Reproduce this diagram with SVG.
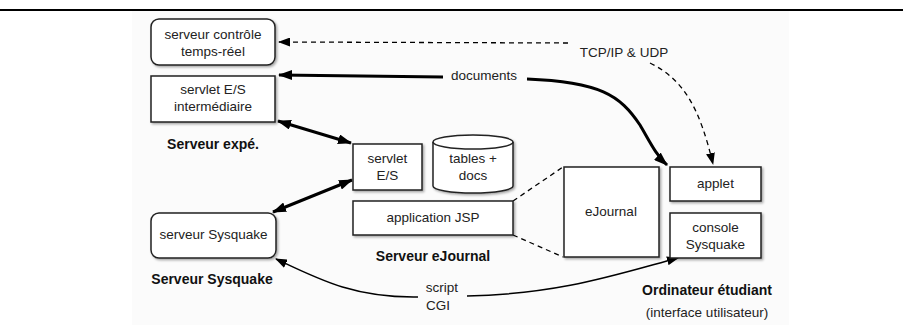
<svg xmlns="http://www.w3.org/2000/svg" width="903" height="325" viewBox="0 0 903 325">
<style>
.box{fill:#fff;stroke:#222;stroke-width:1.5;filter:url(#sh)}
.t{font-family:"Liberation Sans",Arial,sans-serif;font-size:13.5px;fill:#222;text-anchor:middle}
.b{font-family:"Liberation Sans",Arial,sans-serif;font-size:14px;font-weight:bold;fill:#111;text-anchor:middle}
.thick{fill:none;stroke:#000;stroke-width:3}
.thin{fill:none;stroke:#000;stroke-width:1.5}
.dash{fill:none;stroke:#000;stroke-width:1.3;stroke-dasharray:5 4}
</style>
<defs>
<filter id="sh" x="-10%" y="-10%" width="130%" height="130%">
<feDropShadow dx="1.5" dy="1.5" stdDeviation="1" flood-color="#000" flood-opacity="0.35"/>
</filter>
<marker id="ab" viewBox="0 0 14 10" refX="13" refY="5" markerWidth="14" markerHeight="10" markerUnits="userSpaceOnUse" orient="auto-start-reverse">
<path d="M0,0 L14,5 L0,10 Z" fill="#000"/>
</marker>
<marker id="as" viewBox="0 0 12 9" refX="11" refY="4.5" markerWidth="12" markerHeight="9" markerUnits="userSpaceOnUse" orient="auto-start-reverse">
<path d="M0,0 L12,4.5 L0,9 Z" fill="#000"/>
</marker>
</defs>
<rect x="0" y="0" width="903" height="325" fill="#fff"/>
<rect x="132" y="11" width="657" height="314" fill="#fbfbfb"/>
<line x1="0" y1="10" x2="903" y2="10" stroke="#000" stroke-width="2"/>

<g id="connectors">
<path class="dash" d="M568,43 L279,42" marker-end="url(#as)"/>
<path class="dash" d="M650,63 C685,80 700,110 713,164" marker-end="url(#as)"/>
<path class="thick" d="M443,77 C380,76 320,75 279,75" marker-end="url(#ab)"/>
<path class="thick" d="M527,79 C600,82 620,95 640,125 C650,142 656,155 667,165" marker-end="url(#ab)"/>
<path class="thick" d="M278,121 L351,143" marker-start="url(#ab)" marker-end="url(#ab)"/>
<path class="thick" d="M273,212 L352,180" marker-start="url(#ab)" marker-end="url(#ab)"/>
<path class="dash" d="M513,201 L563,167"/>
<path class="dash" d="M513,235 L563,257"/>
<path class="thin" d="M418,297 C355,298 320,280 276,259" marker-end="url(#as)"/>
<path class="thin" d="M467,296 C560,294 615,275 678,258" marker-end="url(#as)"/>
<text class="t" x="624" y="57">TCP/IP &amp; UDP</text>
<text class="t" x="484" y="80">documents</text>
<text class="t" x="442" y="292">script</text>
<text class="t" x="438" y="310">CGI</text>
</g>

<g id="serveur-controle">
<rect class="box" x="151" y="19" width="124" height="46" rx="8"/>
<text class="t" x="213" y="39">serveur contrôle</text>
<text class="t" x="213" y="56">temps-réel</text>
</g>
<g id="servlet-intermediaire">
<rect class="box" x="151" y="76" width="124" height="46"/>
<text class="t" x="213" y="94">servlet E/S</text>
<text class="t" x="213" y="111">intermédiaire</text>
</g>
<g id="label-serveur-expe">
<text class="b" x="213" y="149">Serveur expé.</text>
</g>
<g id="servlet-es">
<rect class="box" x="353" y="144" width="69" height="46"/>
<text class="t" x="387.5" y="163">servlet</text>
<text class="t" x="387.5" y="180">E/S</text>
</g>
<g id="tables-docs">
<path class="box" d="M433,142 A40,7 0 0,1 513,142 V186 A40,7 0 0,1 433,186 Z"/>
<path d="M433,142 A40,7 0 0,0 513,142" fill="none" stroke="#222" stroke-width="1.5"/>
<text class="t" x="473" y="163">tables +</text>
<text class="t" x="473" y="180">docs</text>
</g>
<g id="application-jsp">
<rect class="box" x="353" y="201" width="160" height="34"/>
<text class="t" x="433" y="222">application JSP</text>
</g>
<g id="label-serveur-ejournal">
<text class="b" x="433" y="261">Serveur eJournal</text>
</g>
<g id="ejournal">
<rect class="box" x="564" y="167" width="95" height="90"/>
<text class="t" x="611" y="216">eJournal</text>
</g>
<g id="applet">
<rect class="box" x="670" y="167" width="91" height="34"/>
<text class="t" x="715.5" y="188">applet</text>
</g>
<g id="console-sysquake">
<rect class="box" x="670" y="213" width="91" height="45"/>
<text class="t" x="715.5" y="232">console</text>
<text class="t" x="715.5" y="249">Sysquake</text>
</g>
<g id="label-ordinateur">
<text class="b" x="707" y="295">Ordinateur étudiant</text>
<text class="t" x="707" y="317">(interface utilisateur)</text>
</g>
<g id="serveur-sysquake">
<rect class="box" x="151" y="213" width="125" height="45" rx="8"/>
<text class="t" x="213.5" y="239">serveur Sysquake</text>
</g>
<g id="label-serveur-sysquake">
<text class="b" x="212" y="284">Serveur Sysquake</text>
</g>
</svg>
